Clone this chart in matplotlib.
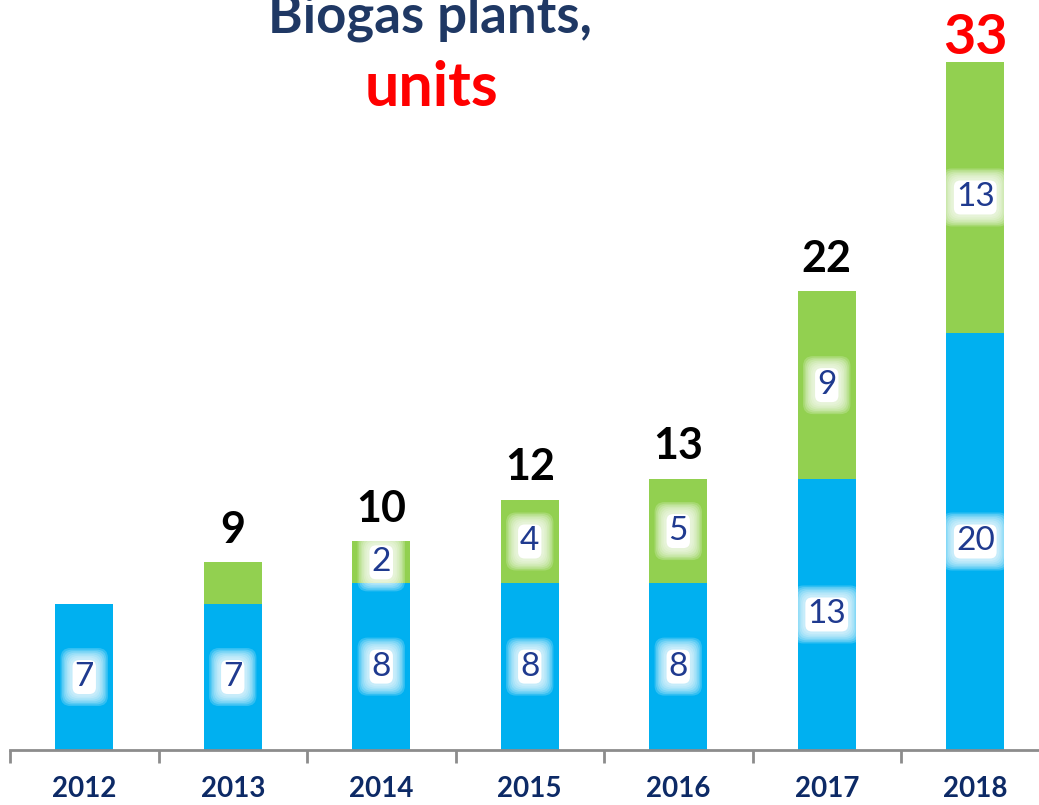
import numpy as np
import matplotlib.pyplot as plt

# Данные
years = ['2012', '2013', '2014', '2015', '2016', '2017', '2018']
blue_vals = [7, 7, 8, 8, 8, 13, 20]
green_vals = [0, 2, 2, 4, 5, 9, 13]
green_labeled = [False, False, True, True, True, True, True]
total_shown = [False, True, True, True, True, True, True]

BLUE = '#00B0F0'
GREEN = '#92D050'
NAVY = '#1F3A8F'

plt.rcParams['font.family'] = ['Lato', 'DejaVu Sans']

fig = plt.figure(figsize=(10.39, 8.05), dpi=100)
ax = fig.add_axes([10 / 1039, 55 / 805, 1039.5 / 1039, 750 / 805])

x = np.arange(len(years))
blue = np.array(blue_vals)
green = np.array(green_vals)
totals = blue + green

ax.bar(x, blue, width=0.39, color=BLUE)
ax.bar(x, green, width=0.39, bottom=blue, color=GREEN)

ax.set_xlim(-0.5, 6.5)
ax.set_ylim(0, 750 / 20.85)


def glow_label(xp, yp, txt):
    # мягкое белое свечение вокруг подписи
    for pad in np.linspace(0.42, 0.14, 7):
        ax.text(xp, yp, txt, ha='center', va='center', fontsize=24,
                color=(0, 0, 0, 0),
                bbox=dict(boxstyle=f'round,pad={pad:.3f},rounding_size=0.3',
                          fc='white', ec='none', alpha=0.2))
    ax.text(xp, yp, txt, ha='center', va='center', fontsize=24, color=NAVY,
            bbox=dict(boxstyle='round,pad=0.06,rounding_size=0.2', fc='white', ec='none'))


for i in range(len(years)):
    glow_label(x[i], blue[i] / 2, str(blue[i]))
    if green_labeled[i]:
        glow_label(x[i], blue[i] + green[i] / 2, str(green[i]))
    if total_shown[i]:
        last = i == len(years) - 1
        ax.annotate(str(totals[i]), (x[i], totals[i]), xytext=(0, -1 if last else 9),
                    textcoords='offset points', ha='center', va='bottom',
                    fontsize=40 if last else 31, fontweight='bold',
                    color='#FF0000' if last else 'black')

# оси
for s in ['top', 'right', 'left']:
    ax.spines[s].set_visible(False)
ax.spines['bottom'].set_color('#8C8C8C')
ax.spines['bottom'].set_linewidth(2)
ax.set_yticks([])
ax.set_xticks(np.arange(-0.5, 7, 1))
ax.set_xticklabels([])
ax.tick_params(axis='x', direction='out', length=9, width=2, color='#8C8C8C')
ax.set_xticks(x, minor=True)
ax.set_xticklabels(years, minor=True, fontsize=20, fontweight='bold', color='#0D2A66')
ax.tick_params(axis='x', which='minor', length=0, pad=19)

# заголовок (верх обрезан, как в оригинале)
fig.text(430 / 1039, 1 - 33 / 805, 'Biogas plants,', ha='center', va='baseline',
         fontsize=38, fontweight='bold', color='#1F3864')
fig.text(432 / 1039, 1 - 106 / 805, 'units', ha='center', va='baseline',
         fontsize=44, fontweight='bold', color='#FF0000')

fig.savefig('out.png', dpi=100)
